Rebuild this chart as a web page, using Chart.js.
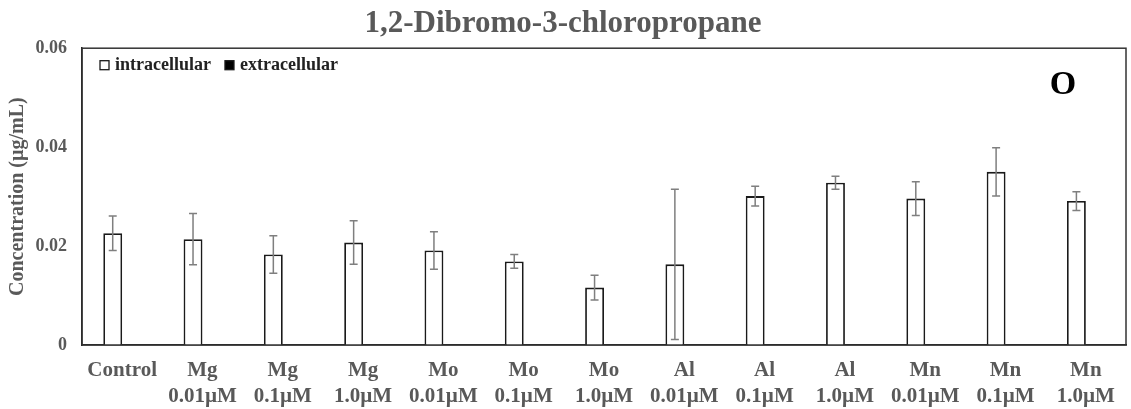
<!DOCTYPE html>
<html>
<head>
<meta charset="utf-8">
<title>1,2-Dibromo-3-chloropropane</title>
<script src="https://cdn.jsdelivr.net/npm/chart.js@4/dist/chart.umd.min.js"></script>
<style>
  html, body { margin: 0; padding: 0; background: #fff; }
  #wrap { width: 1131px; height: 409px; }
</style>
</head>
<body>
<div id="wrap"><canvas id="chart" width="1131" height="409"></canvas></div>
<script>
// 類別 (x 軸兩行標籤)
const categories = [
  ['Control', ''],
  ['Mg', '0.01µM'], ['Mg', '0.1µM'], ['Mg', '1.0µM'],
  ['Mo', '0.01µM'], ['Mo', '0.1µM'], ['Mo', '1.0µM'],
  ['Al', '0.01µM'], ['Al', '0.1µM'], ['Al', '1.0µM'],
  ['Mn', '0.01µM'], ['Mn', '0.1µM'], ['Mn', '1.0µM']
];
const intracellular = [0.0226, 0.0214, 0.0183, 0.0207, 0.0191, 0.0169, 0.0116, 0.0163, 0.0301, 0.0328, 0.0296, 0.0350, 0.0291];
const intracellularErr = [0.0035, 0.0052, 0.0038, 0.0044, 0.0038, 0.0014, 0.0025, 0.0152, 0.0020, 0.0013, 0.0034, 0.0049, 0.0019];
const extracellular = [0, 0, 0, 0, 0, 0, 0, 0, 0, 0, 0, 0, 0];
const yTicks = [0, 0.02, 0.04, 0.06];
const panelLetter = 'O';

const serif = "'Liberation Serif', 'Times New Roman', serif";
const gray = '#595959';

// 誤差線
const errorBars = {
  id: 'errorBars',
  afterDatasetsDraw(chart) {
    const ctx = chart.ctx;
    const meta = chart.getDatasetMeta(0);
    const y = chart.scales.y;
    ctx.save();
    ctx.strokeStyle = '#7f7f7f';
    ctx.lineWidth = 1.5;
    meta.data.forEach((bar, i) => {
      const v = intracellular[i], e = intracellularErr[i];
      const top = y.getPixelForValue(v + e);
      const bot = y.getPixelForValue(v - e);
      ctx.beginPath();
      ctx.moveTo(bar.x, top); ctx.lineTo(bar.x, bot);
      ctx.moveTo(bar.x - 4, top); ctx.lineTo(bar.x + 4, top);
      ctx.moveTo(bar.x - 4, bot); ctx.lineTo(bar.x + 4, bot);
      ctx.stroke();
    });
    ctx.restore();
  }
};

// 外框 + 圖例 (放在圖區內左上) + 面板字母
const frame = {
  id: 'frame',
  afterDraw(chart) {
    const { ctx, chartArea: a } = chart;
    ctx.save();
    ctx.strokeStyle = '#333';
    ctx.lineWidth = 1.5;
    ctx.strokeRect(a.left, a.top, a.right - a.left, a.bottom - a.top);

    // 圖例
    ctx.font = "bold 18px " + serif;
    ctx.textBaseline = 'middle';
    ctx.textAlign = 'left';
    let x = a.left + 18;
    const y = a.top + 17;
    chart.data.datasets.forEach((ds) => {
      ctx.fillStyle = ds.backgroundColor;
      ctx.fillRect(x, y - 4.5, 9, 9);
      ctx.strokeStyle = '#1a1a1a';
      ctx.lineWidth = 1.3;
      ctx.strokeRect(x, y - 4.5, 9, 9);
      ctx.fillStyle = '#222';
      ctx.fillText(ds.label, x + 15, y);
      x += 15 + ctx.measureText(ds.label).width + 14;
    });

    ctx.fillStyle = '#000';
    ctx.font = "bold 34px " + serif;
    ctx.textAlign = 'center';
    ctx.fillText(panelLetter, a.right - 63, a.top + 37);
    ctx.restore();
  }
};

new Chart(document.getElementById('chart'), {
  type: 'bar',
  data: {
    labels: categories,
    datasets: [
      {
        label: 'intracellular',
        data: intracellular,
        backgroundColor: '#fff',
        borderColor: '#1a1a1a',
        borderWidth: 1.8,
        categoryPercentage: 0.47,
        barPercentage: 1.0
      },
      {
        label: 'extracellular',
        data: extracellular,
        backgroundColor: '#000',
        borderColor: '#000',
        borderWidth: 1,
        categoryPercentage: 0.47,
        barPercentage: 1.0
      }
    ]
  },
  options: {
    responsive: false,
    animation: false,
    layout: { padding: { left: 0, right: 5, top: 0, bottom: 0 } },
    plugins: {
      title: {
        display: true,
        text: '1,2-Dibromo-3-chloropropane',
        color: gray,
        font: { family: serif, size: 31, weight: 'bold' },
        padding: { top: 5, bottom: 6 }
      },
      legend: { display: false },
      tooltip: { enabled: false }
    },
    scales: {
      x: {
        grid: { display: false, drawTicks: false },
        border: { color: '#1a1a1a', width: 1.5 },
        ticks: {
          color: gray,
          font: { family: serif, size: 21, weight: 'bold', lineHeight: 1.25 },
          padding: 12,
          maxRotation: 0,
          autoSkip: false
        },
        afterFit(scale) { scale.height = 64; }
      },
      y: {
        min: 0,
        max: 0.06,
        grid: { display: false, drawTicks: false },
        border: { color: '#1a1a1a', width: 1.5 },
        afterBuildTicks(scale) { scale.ticks = yTicks.map(v => ({ value: v })); },
        ticks: {
          color: gray,
          font: { family: serif, size: 18, weight: 'bold' },
          padding: 15,
          callback: (v) => (v === 0 ? '0' : v.toFixed(2))
        },
        title: {
          display: true,
          text: 'Concentration (µg/mL)',
          color: gray,
          font: { family: serif, size: 20, weight: 'bold' },
          padding: { top: 6, bottom: 0 }
        },
        afterFit(scale) { scale.width = 82; }
      }
    }
  },
  plugins: [errorBars, frame]
});
</script>
</body>
</html>
